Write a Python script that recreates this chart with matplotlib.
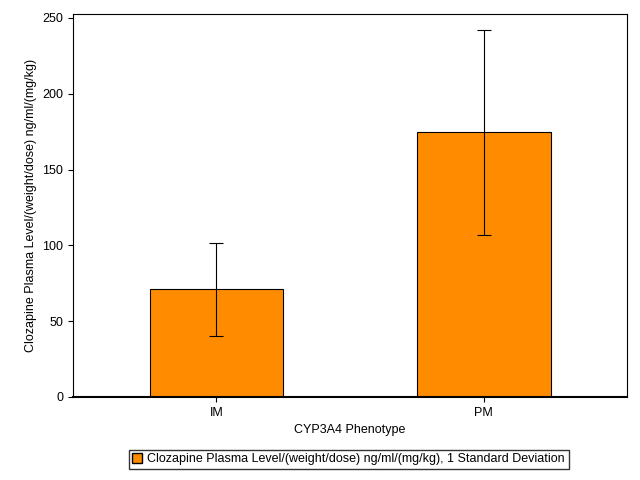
import matplotlib
matplotlib.use("Agg")
import matplotlib.pyplot as plt
from matplotlib.patches import Patch

categories = ["IM", "PM"]
means = [71.0, 174.5]
sds = [30.5, 67.5]

plt.rcParams["font.family"] = "Liberation Sans"
fig = plt.figure(figsize=(6.4, 4.8), dpi=100)
ax = fig.add_axes([0.114, 0.173, 0.866, 0.798])
x = range(len(categories))
ax.bar(x, means, width=0.5, color="#FF8C00", edgecolor="black", linewidth=0.8, zorder=2)
ax.errorbar(x, means, yerr=sds, fmt="none", ecolor="black", elinewidth=0.8, capsize=5, capthick=0.8, zorder=3)
ax.set_xlim(-0.537, 1.537)
ax.set_ylim(0, 252.6)
ax.set_xticks(list(x))
ax.set_xticklabels(categories, fontsize=9)
ax.set_yticks([0, 50, 100, 150, 200, 250])
ax.tick_params(labelsize=9)
ax.set_xlabel("CYP3A4 Phenotype", fontsize=9)
ax.set_ylabel("Clozapine Plasma Level/(weight/dose) ng/ml/(mg/kg)", fontsize=9)
ax.spines["bottom"].set_linewidth(1.5)
fig.legend(handles=[Patch(facecolor="#FF8C00", edgecolor="black",
                          label="Clozapine Plasma Level/(weight/dose) ng/ml/(mg/kg), 1 Standard Deviation")],
           loc="center", bbox_to_anchor=(0.545, 0.043), fontsize=9, frameon=True,
           fancybox=False, edgecolor="black", handlelength=0.8, handleheight=0.8,
           borderpad=0.3, handletextpad=0.4)
fig.savefig("out.png", dpi=100)
